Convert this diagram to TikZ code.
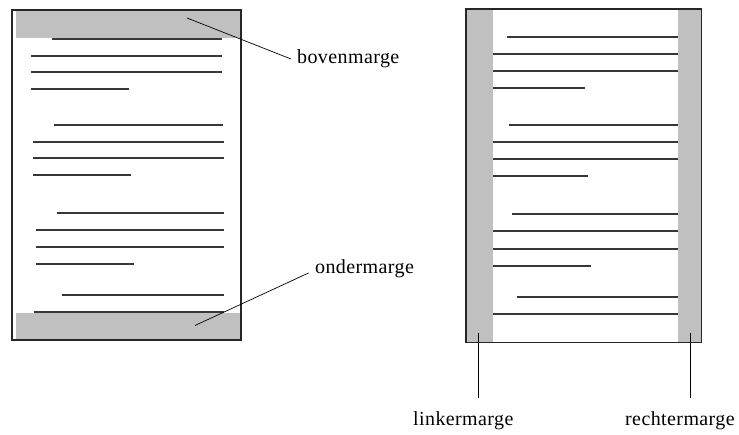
\documentclass[tikz,border=0pt]{standalone}
\usepackage{fontspec}
\setmainfont{Liberation Serif}[LetterSpace=2]
\definecolor{margegrijs}{RGB}{192,192,192}
\definecolor{lijngrijs}{RGB}{55,55,55}
\tikzset{
  pagebox/.style={draw=black!85, line width=1.6pt},
  margeband/.style={fill=margegrijs, draw=none},
  textline/.style={draw=lijngrijs, line width=1.8pt},
  leader/.style={draw=black, line width=0.7pt},
  labeltext/.style={anchor=base west, inner sep=0pt, font=\fontsize{20}{23}\selectfont}
}
\begin{document}
\begin{tikzpicture}[x=1pt, y=-1pt]
\useasboundingbox (0,0) rectangle (739,435);
\fill[white] (0,0) rectangle (739,435);

% ---------- left page ----------
\fill[margeband] (16,11) rectangle (240.5,37.7);
\fill[margeband] (16,312.7) rectangle (240.5,339.5);
\foreach \y/\a/\b in {39.3/52/222, 56/31/222, 72.3/31/222, 89.3/31/128.7,
                      125.3/53.7/223.3, 142/33.3/224, 158.3/33.3/224, 175/33.3/131,
                      213.3/56.7/224, 230.3/36/224, 247/36/224, 264/36/134,
                      295/61.7/224, 312/33.7/224}
  \draw[textline] (\a,\y) -- (\b,\y);
\draw[pagebox] (12,10) rectangle (241,340);

% ---------- right page ----------
\fill[margeband] (466.5,9.5) rectangle (492.7,342);
\fill[margeband] (677.7,9.5) rectangle (701,342);
\foreach \y/\a/\b in {37.3/506.7/677.7, 54.3/493.3/677.7, 71/493.3/677.7, 88.3/493.3/585,
                      125/509.3/677.7, 141.7/493.3/677.7, 158.7/493.3/677.7, 175.7/493.3/587.7,
                      214.3/512.3/677.7, 231.3/493.3/677.7, 248.7/493.3/677.7, 265.7/493.3/590.7,
                      297/517.3/677.7, 314/493.3/677.7}
  \draw[textline] (\a,\y) -- (\b,\y);
\draw[pagebox] (466,9) rectangle (701.5,342.5);

% ---------- labels ----------
\node[labeltext] (boven) at (297,64) {bovenmarge};
\node[labeltext] (onder) at (315,273.3) {ondermarge};
\node[labeltext] (links) at (413,425.7) {linkermarge};
\node[labeltext] (rechts) at (625,425.7) {rechtermarge};

% ---------- leaders ----------
\coordinate (bovenA) at (187,18);
\coordinate (bovenB) at (291,59);
\coordinate (onderA) at (195,325.5);
\coordinate (onderB) at (308.5,273);
\coordinate (linksA) at (478.3,333);
\coordinate (linksB) at (478.3,398.5);
\coordinate (rechtsA) at (690.7,333);
\coordinate (rechtsB) at (690.7,398.5);
\draw[leader] (bovenA) -- (bovenB);
\draw[leader] (onderA) -- (onderB);
\draw[leader] (linksA) -- (linksB);
\draw[leader] (rechtsA) -- (rechtsB);
\end{tikzpicture}
\end{document}
